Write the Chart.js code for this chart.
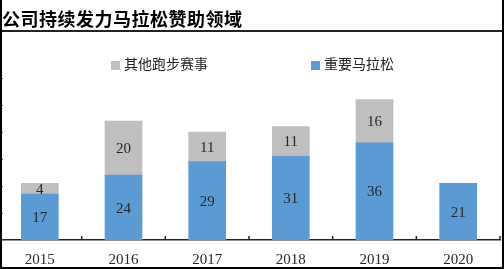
<!DOCTYPE html>
<html>
<head>
<meta charset="utf-8">
<script src="https://cdn.jsdelivr.net/npm/chart.js@4.4.1/dist/chart.umd.min.js"></script>
<style>
  html, body { margin: 0; padding: 0; background: #fff; }
  #wrap { position: relative; width: 504px; height: 270px; overflow: hidden; }
  #chart { position: absolute; left: -2px; top: 0; }
  #frame { position: absolute; left: 0; top: 0; width: 500px; height: 267px;
           border-left: 2px solid #000; border-right: 2px solid #000; border-bottom: 2px solid #000; pointer-events: none; }
  #title { position: absolute; left: 2px; top: 5px; font: bold 18px "Noto Sans CJK SC"; letter-spacing: 0.5px; color: #000; white-space: nowrap; }
  #rule { position: absolute; left: 0; top: 30px; width: 504px; height: 2px; background: #222; }
  .leg { position: absolute; top: 54px; font: 14px "Noto Sans CJK SC"; color: #222; white-space: nowrap; line-height: 18px; }
  .leg i { display: inline-block; width: 9px; height: 9px; margin-right: 4px; vertical-align: -1px; }
</style>
</head>
<body>
<div id="wrap">
  <canvas id="chart" width="504" height="270"></canvas>
  <div id="title">公司持续发力马拉松赞助领域</div>
  <div id="rule"></div>
  <div id="leg0" class="leg" style="left:111px"></div>
  <div id="leg1" class="leg" style="left:311px"></div>
  <div id="frame"></div>
</div>
<script>
// 数据
const years = ['2015', '2016', '2017', '2018', '2019', '2020'];
const seriesNames = ['重要马拉松', '其他跑步赛事'];
const majorMarathons = [17, 24, 29, 31, 36, 21];
const otherRaces = [4, 20, 11, 11, 16, 0];
const yTicks = [0, 10, 20, 30, 40, 50, 60];

const colors = ['#5B9BD5', '#BFBFBF'];

// 图例 (HTML)
document.getElementById('leg0').innerHTML = '<i style="background:' + colors[1] + '"></i>' + seriesNames[1];
document.getElementById('leg1').innerHTML = '<i style="background:' + colors[0] + '"></i>' + seriesNames[0];

// 数值标签 + 刻度线
const decor = {
    id: 'decor',
    afterDatasetsDraw(chart) {
        const ctx = chart.ctx;
        ctx.save();
        ctx.font = '15px "Liberation Serif"';
        ctx.fillStyle = '#262626';
        ctx.textAlign = 'center';
        ctx.textBaseline = 'middle';
        chart.data.datasets.forEach((ds, i) => {
            const meta = chart.getDatasetMeta(i);
            meta.data.forEach((bar, j) => {
                const v = ds.data[j];
                if (!v) return;
                ctx.fillText(v, bar.x, (bar.y + bar.base) / 2 + 1);
            });
        });
        ctx.restore();
    },
    afterDraw(chart) {
        const ctx = chart.ctx;
        const x = chart.scales.x, y = chart.scales.y;
        ctx.save();
        // y ticks (left edge)
        ctx.strokeStyle = '#666';
        ctx.lineWidth = 1;
        yTicks.forEach(t => {
            const py = Math.round(y.getPixelForValue(t)) + 0.5;
            ctx.beginPath();
            ctx.moveTo(2, py);
            ctx.lineTo(5, py);
            ctx.stroke();
        });
        // x ticks pointing up at category boundaries
        ctx.strokeStyle = '#222';
        ctx.lineWidth = 1.5;
        const step = x.getPixelForValue(1) - x.getPixelForValue(0);
        for (let i = 0; i < years.length; i++) {
            const px = x.getPixelForValue(i) + step / 2;
            ctx.beginPath();
            ctx.moveTo(px, chart.chartArea.bottom);
            ctx.lineTo(px, chart.chartArea.bottom - 4);
            ctx.stroke();
        }
        ctx.restore();
    }
};

new Chart(document.getElementById('chart').getContext('2d'), {
    type: 'bar',
    data: {
        labels: years,
        datasets: [
            { label: seriesNames[0], data: majorMarathons, backgroundColor: colors[0], barThickness: 37 },
            { label: seriesNames[1], data: otherRaces, backgroundColor: colors[1], barThickness: 37 }
        ]
    },
    options: {
        responsive: false,
        animation: false,
        devicePixelRatio: 1,
        layout: { padding: { top: 78, left: 0, right: 2, bottom: -10 } },
        plugins: {
            legend: { display: false },
            tooltip: { enabled: false }
        },
        scales: {
            x: {
                stacked: true,
                grid: { display: false, drawTicks: false },
                border: { display: true, color: '#222', width: 1.5 },
                ticks: { color: '#262626', padding: 11, font: { family: 'Liberation Serif', size: 15 } }
            },
            y: {
                stacked: true,
                display: false,
                min: 0,
                max: 60
            }
        }
    },
    plugins: [decor]
});
</script>
</body>
</html>
